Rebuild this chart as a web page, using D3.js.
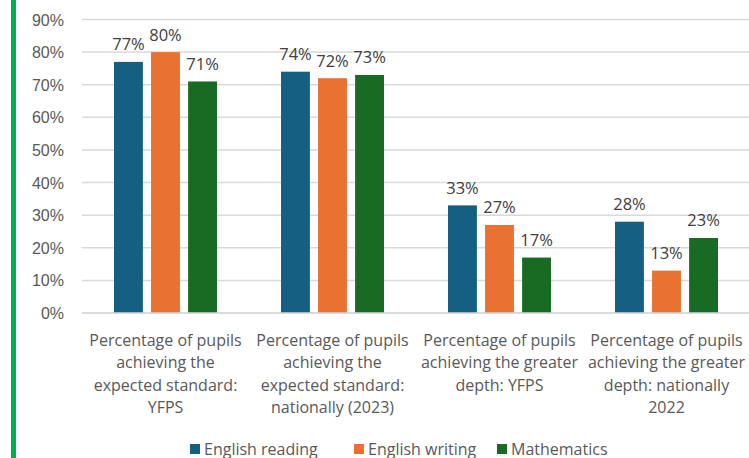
<!DOCTYPE html>
<html>
<head>
<meta charset="utf-8">
<script src="https://cdn.jsdelivr.net/npm/d3@7"></script>
<style>
  body { margin: 0; background: #fff; }
  svg { display: block; font-family: "Open Sans", "Noto Sans", sans-serif; }
  .tick text { fill: #595959; font-size: 16px; }
  .grid line { stroke: #d9d9d9; stroke-width: 1.5; }
  .value-label { fill: #404040; font-size: 16.5px; }
  .cat-label { fill: #595959; font-size: 16px; }
  .legend-text { fill: #595959; font-size: 16px; }
</style>
</head>
<body>
<svg id="chart"></svg>
<script>
const width = 749;
const height = 458;
const margin = { top: 19.5, right: 0, bottom: 145, left: 82 };

const categories = [
  ["Percentage of pupils", "achieving the", "expected standard:", "YFPS"],
  ["Percentage of pupils", "achieving the", "expected standard:", "nationally (2023)"],
  ["Percentage of pupils", "achieving the greater", "depth: YFPS"],
  ["Percentage of pupils", "achieving the greater", "depth: nationally", "2022"],
];
const seriesNames = ["English reading", "English writing", "Mathematics"];
const seriesColors = ["#156082", "#e97132", "#196b24"];
const englishReading = [77, 74, 33, 28];
const englishWriting = [80, 72, 27, 13];
const mathematics = [71, 73, 17, 23];
const yTicks = [0, 10, 20, 30, 40, 50, 60, 70, 80, 90];

const seriesValues = [englishReading, englishWriting, mathematics];

const svg = d3.select("#chart").attr("width", width).attr("height", height);

// green page border on the left
svg.append("rect")
  .attr("x", 11).attr("y", 0).attr("width", 5).attr("height", height)
  .attr("fill", "#00b050");

const x = d3.scaleBand()
  .domain(d3.range(categories.length))
  .range([margin.left, width + 1]);
const y = d3.scaleLinear()
  .domain([0, 90])
  .range([313, margin.top]);
const inner = d3.scaleBand()
  .domain(d3.range(seriesNames.length))
  .range([0, 103])
  .paddingInner(0.22);

svg.append("g")
  .attr("class", "grid")
  .selectAll("line")
  .data(yTicks)
  .join("line")
  .attr("x1", margin.left)
  .attr("x2", width)
  .attr("y1", (d) => y(d))
  .attr("y2", (d) => y(d));

svg.append("g")
  .attr("transform", `translate(${margin.left - 18},0)`)
  .call(d3.axisLeft(y).tickValues(yTicks).tickSize(0).tickPadding(0).tickFormat((d) => d + "%"))
  .call((g) => g.select(".domain").remove())
  .call((g) => g.selectAll(".tick text").attr("dy", "0.35em"));

const groups = svg.append("g")
  .selectAll("g")
  .data(categories)
  .join("g")
  .attr("transform", (d, i) => `translate(${x(i) + x.bandwidth() / 2 - 51.5},0)`);

groups.each(function (_, ci) {
  const g = d3.select(this);
  seriesValues.forEach((vals, si) => {
    g.append("rect")
      .attr("x", inner(si))
      .attr("width", inner.bandwidth())
      .attr("y", y(vals[ci]))
      .attr("height", y(0) - y(vals[ci]))
      .attr("fill", seriesColors[si]);
    g.append("text")
      .attr("class", "value-label")
      .attr("x", inner(si) + inner.bandwidth() / 2)
      .attr("y", y(vals[ci]) - 11.5)
      .attr("text-anchor", "middle")
      .text(vals[ci] + "%");
  });
});

// baseline
svg.append("line")
  .attr("x1", margin.left).attr("x2", width)
  .attr("y1", y(0)).attr("y2", y(0))
  .attr("stroke", "#d9d9d9").attr("stroke-width", 1.5);

svg.append("g")
  .selectAll("text")
  .data(categories)
  .join("text")
  .attr("class", "cat-label")
  .attr("text-anchor", "middle")
  .attr("x", (d, i) => x(i) + x.bandwidth() / 2)
  .attr("y", 346)
  .selectAll("tspan")
  .data((d) => d)
  .join("tspan")
  .attr("x", function () { return d3.select(this.parentNode).attr("x"); })
  .attr("dy", (d, i) => (i === 0 ? 0 : 22.3))
  .text((d) => d);

const legendX = [190, 354, 497];
const legend = svg.append("g")
  .selectAll("g")
  .data(seriesNames)
  .join("g")
  .attr("transform", (d, i) => `translate(${legendX[i]},444)`);
legend.append("rect")
  .attr("width", 10).attr("height", 10)
  .attr("fill", (d, i) => seriesColors[i]);
legend.append("text")
  .attr("class", "legend-text")
  .attr("x", 14)
  .attr("y", 10.5)
  .text((d) => d);
</script>
</body>
</html>
